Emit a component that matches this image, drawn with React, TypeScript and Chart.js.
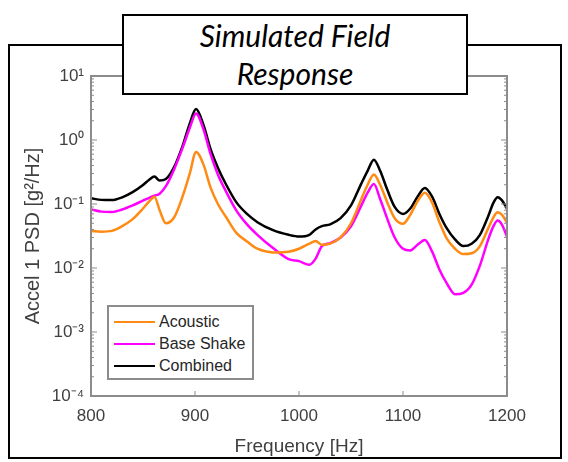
import React, { useEffect, useRef } from "react";
import { Chart, registerables } from "chart.js";

Chart.register(...registerables);

// ---- data ----
const frequencies = [
  800, 810, 820, 830, 840, 850, 856, 861, 866, 872, 880, 888, 895, 901, 908, 915, 922, 930, 940, 950,
  960, 975, 990, 1000, 1010, 1016, 1022, 1030, 1040, 1050, 1060, 1066, 1072, 1078, 1085, 1092, 1100,
  1107, 1114, 1121, 1128, 1135, 1142, 1150, 1158, 1166, 1174, 1182, 1187, 1191, 1195, 1200,
];
const acoustic = [
  0.038, 0.037, 0.038, 0.045, 0.058, 0.085, 0.11, 0.13, 0.08, 0.05, 0.062, 0.13, 0.3, 0.65, 0.42, 0.18,
  0.1, 0.062, 0.035, 0.026, 0.02, 0.0175, 0.018, 0.02, 0.024, 0.0265, 0.023, 0.024, 0.03, 0.05, 0.12,
  0.2, 0.29, 0.2, 0.105, 0.06, 0.049, 0.068, 0.11, 0.15, 0.105, 0.052, 0.029, 0.02, 0.0165, 0.017,
  0.022, 0.042, 0.062, 0.074, 0.068, 0.051,
];
const baseShake = [
  0.082, 0.076, 0.075, 0.082, 0.095, 0.113, 0.125, 0.135, 0.145, 0.19, 0.35, 0.75, 1.55, 2.6, 1.5, 0.6,
  0.29, 0.155, 0.078, 0.048, 0.033, 0.0205, 0.0138, 0.0128, 0.0112, 0.014, 0.022, 0.0245, 0.03, 0.045,
  0.095, 0.15, 0.205, 0.12, 0.058, 0.03, 0.02, 0.0188, 0.023, 0.0275, 0.018, 0.0095, 0.0058, 0.0039,
  0.0041, 0.0055, 0.011, 0.028, 0.045, 0.055, 0.048, 0.031,
];
const combined = [
  0.123, 0.116, 0.115, 0.127, 0.153, 0.198, 0.24, 0.268, 0.232, 0.245, 0.38, 0.8, 1.82, 3.05, 1.75,
  0.72, 0.37, 0.2, 0.105, 0.07, 0.052, 0.039, 0.033, 0.031, 0.033, 0.04, 0.045, 0.048, 0.06, 0.095,
  0.21, 0.33, 0.49, 0.33, 0.165, 0.09, 0.07, 0.085, 0.13, 0.178, 0.13, 0.07, 0.042, 0.028, 0.022,
  0.024, 0.033, 0.065, 0.105, 0.128, 0.115, 0.085,
];
const seriesNames = ["Acoustic", "Base Shake", "Combined"];
const seriesColors = ["#ff8a14", "#ff00ff", "#000000"];
const xTickValues = [800, 900, 1000, 1100, 1200];
const yTickExponents = [-4, -3, -2, -1, 0, 1];
const titleLines = ["Simulated Field", "Response"];
const xTitle = "Frequency [Hz]";
const yTitle = "Accel 1 PSD [g\u00B2/Hz]";

const FONT = "'Liberation Sans', Arial, sans-serif";
const TEXT_COLOR = "#404040";
const AXIS_COLOR = "#8c8c8c";

const SUP: Record<string, string> = {
  "-": "\u207B",
  "0": "\u2070",
  "1": "\u00B9",
  "2": "\u00B2",
  "3": "\u00B3",
  "4": "\u2074",
  "5": "\u2075",
};
const sup = (n: number) =>
  String(n)
    .split("")
    .map((c) => SUP[c] ?? c)
    .join("");

const framePlugin = {
  id: "frame",
  afterDatasetsDraw(chart: any) {
    const { ctx, chartArea: a, scales } = chart;
    ctx.save();
    ctx.strokeStyle = AXIS_COLOR;
    const seg = (x1: number, y1: number, x2: number, y2: number) => {
      ctx.beginPath();
      ctx.moveTo(x1, y1);
      ctx.lineTo(x2, y2);
      ctx.stroke();
    };
    ctx.lineWidth = 1;
    const ys = scales.y;
    for (let i = 0; i < yTickExponents.length - 1; i++) {
      const e = yTickExponents[i];
      for (let k = 1; k <= 9; k++) {
        const py = ys.getPixelForValue(k * Math.pow(10, e));
        const len = k === 1 ? 6 : 3;
        seg(a.left, py, a.left + len, py);
        seg(a.right, py, a.right - len, py);
      }
    }
    const xs = scales.x;
    for (const t of xTickValues) {
      const px = xs.getPixelForValue(t);
      seg(px, a.bottom, px, a.bottom - 5);
      seg(px, a.top, px, a.top + 5);
    }
    ctx.lineWidth = 2;
    ctx.strokeRect(a.left, a.top, a.right - a.left, a.bottom - a.top);
    ctx.restore();
  },
};

export default function App() {
  const canvasRef = useRef<HTMLCanvasElement | null>(null);

  useEffect(() => {
    if (!canvasRef.current) return;
    const seriesValues = [acoustic, baseShake, combined];
    const chart = new Chart(canvasRef.current, {
      type: "line",
      data: {
        datasets: seriesValues.map((vals, i) => ({
          label: seriesNames[i],
          data: frequencies.map((f, j) => ({ x: f, y: vals[j] })),
          borderColor: seriesColors[i],
          backgroundColor: seriesColors[i],
          borderWidth: 2.5,
          pointRadius: 0,
          cubicInterpolationMode: "monotone" as const,
          fill: false,
        })),
      },
      options: {
        animation: false,
        responsive: false,
        layout: { padding: { left: 17, right: 61, top: 76, bottom: 0 } },
        plugins: {
          legend: { display: false },
          tooltip: { enabled: false },
          title: { display: false },
        },
        scales: {
          x: {
            type: "linear",
            min: 800,
            max: 1200,
            afterBuildTicks: (s: any) => {
              s.ticks = xTickValues.map((v) => ({ value: v }));
            },
            afterFit: (s: any) => {
              s.height = 66;
            },
            grid: { display: false, drawTicks: false },
            border: { display: false },
            ticks: {
              padding: 10,
              color: TEXT_COLOR,
              font: { family: FONT, size: 17 },
              maxRotation: 0,
              callback: (v: any) => String(v),
            },
            title: {
              display: true,
              text: xTitle,
              color: TEXT_COLOR,
              font: { family: FONT, size: 19 },
              padding: { top: 0, bottom: 4 },
            },
          },
          y: {
            type: "logarithmic",
            min: 1e-4,
            max: 10,
            afterBuildTicks: (s: any) => {
              s.ticks = yTickExponents.map((e) => ({ value: Math.pow(10, e) }));
            },
            afterFit: (s: any) => {
              s.width = 74;
            },
            grid: { display: false, drawTicks: false },
            border: { display: false },
            ticks: {
              padding: 7,
              color: TEXT_COLOR,
              font: { family: FONT, size: 17 },
              callback: (v: any) => "10" + sup(Math.round(Math.log10(Number(v)))),
            },
            title: {
              display: true,
              text: yTitle,
              color: TEXT_COLOR,
              font: { family: FONT, size: 20 },
              padding: { top: 4, bottom: 0 },
            },
          },
        },
      },
      plugins: [framePlugin],
    });
    return () => chart.destroy();
  }, []);

  return (
    <div style={{ position: "absolute", left: 0, top: 0, width: 568, height: 462, background: "#fff" }}>
      <div
        style={{
          position: "absolute",
          left: 8,
          top: 44,
          width: 554,
          height: 415,
          boxSizing: "border-box",
          border: "2px solid #000",
        }}
      />
      <canvas
        ref={canvasRef}
        width={568}
        height={462}
        style={{ position: "absolute", left: 0, top: 0, width: 568, height: 462 }}
      />
      <div
        style={{
          position: "absolute",
          left: 122,
          top: 14,
          width: 346,
          height: 81,
          boxSizing: "border-box",
          border: "2px solid #000",
          background: "#fff",
          fontFamily: "Lato, 'Open Sans', sans-serif",
          fontStyle: "italic",
          fontSize: 30,
          lineHeight: "38px",
          textAlign: "center",
          color: "#000",
        }}
      >
        {titleLines.map((t) => (
          <div key={t}>{t}</div>
        ))}
      </div>
      <div
        style={{
          position: "absolute",
          left: 107,
          top: 305,
          width: 147,
          height: 75,
          boxSizing: "border-box",
          border: `2px solid ${AXIS_COLOR}`,
          background: "#fff",
          paddingTop: 4,
          fontFamily: FONT,
          fontSize: 16,
          color: "#262626",
        }}
      >
        {seriesNames.map((n, i) => (
          <div key={n} style={{ display: "flex", alignItems: "center", height: 22 }}>
            <div style={{ marginLeft: 5, width: 41, height: 2.5, background: seriesColors[i] }} />
            <span style={{ marginLeft: 4, lineHeight: "22px" }}>{n}</span>
          </div>
        ))}
      </div>
    </div>
  );
}
